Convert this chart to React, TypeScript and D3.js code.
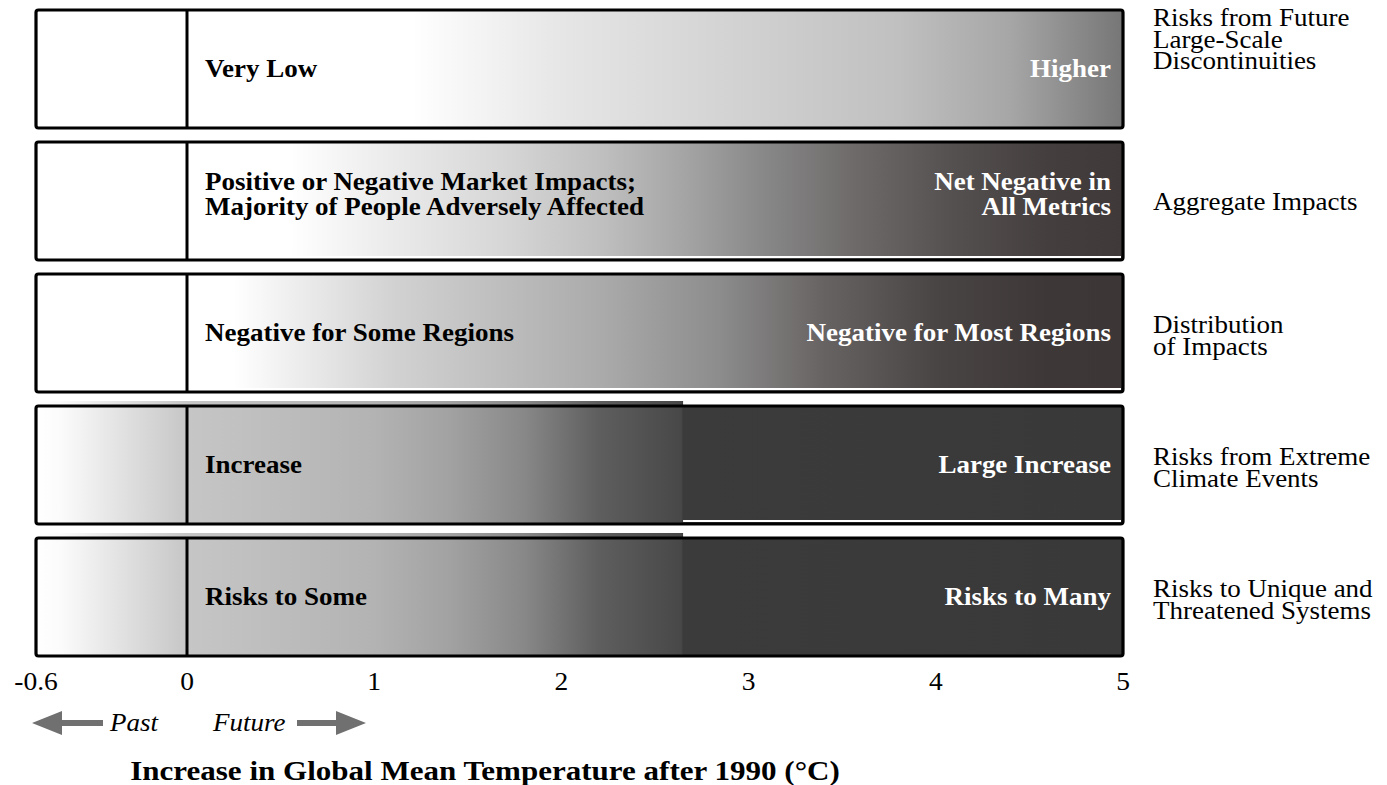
import * as d3 from 'd3'
import type { ReactNode } from 'react'

const WIDTH = 1387
const HEIGHT = 785

// temperature axis (°C after 1990)
const TICKS = [-0.6, 0, 1, 2, 3, 4, 5]
const TICK_LABELS = ['-0.6', '0', '1', '2', '3', '4', '5']

// reasons for concern, top to bottom
const ROWS = ['discontinuities', 'aggregate', 'distribution', 'extreme', 'unique']

const ROW_LABELS = [
  ['Risks from Future', 'Large-Scale', 'Discontinuities'],
  ['Aggregate Impacts'],
  ['Distribution', 'of Impacts'],
  ['Risks from Extreme', 'Climate Events'],
  ['Risks to Unique and', 'Threatened Systems']
]

const LOW_TEXT = [
  ['Very Low'],
  ['Positive or Negative Market Impacts;', 'Majority of People Adversely Affected'],
  ['Negative for Some Regions'],
  ['Increase'],
  ['Risks to Some']
]

const HIGH_TEXT = [
  ['Higher'],
  ['Net Negative in', 'All Metrics'],
  ['Negative for Most Regions'],
  ['Large Increase'],
  ['Risks to Many']
]

// risk shading along temperature: [temp, colour]
const SHADE_DISCONT: [number, string][] = [
  [-0.6, '#ffffff'], [1.2, '#ffffff'], [2.0, '#e6e6e6'], [2.75, '#d6d6d6'],
  [3.8, '#c0c0c0'], [4.4, '#a6a6a6'], [5, '#767676']
]
const SHADE_AGG: [number, string][] = [
  [-0.6, '#ffffff'], [0.55, '#ffffff'], [1.0, '#eeeeee'], [1.7, '#d6d6d6'],
  [2.2, '#c0c0c0'], [2.65, '#a5a5a5'], [3.05, '#8a8a8a'], [3.55, '#6f6b6b'],
  [4.1, '#555050'], [4.6, '#443e3e'], [5, '#3f3939']
]
const SHADE_DIST: [number, string][] = [
  [-0.6, '#ffffff'], [0.25, '#ffffff'], [1.1, '#d2d2d2'], [2.2, '#ababab'],
  [2.85, '#8c8c8c'], [3.4, '#686363'], [4.0, '#4a4545'], [4.6, '#3d3737'], [5, '#3c3636']
]
const SHADE_EXTREME: [number, string][] = [
  [-0.6, '#ffffff'], [-0.5, '#fbfbfb'], [0, '#c6c6c6'], [1, '#b3b3b3'],
  [1.4, '#a2a2a2'], [1.8, '#888888'], [2.0, '#737373'], [2.2, '#5e5e5e'],
  [2.64, '#484848'], [2.65, '#3b3b3b'], [5, '#393939']
]
const SHADE_UNIQUE: [number, string][] = SHADE_EXTREME

const SHADES = [SHADE_DISCONT, SHADE_AGG, SHADE_DIST, SHADE_EXTREME, SHADE_UNIQUE]

// where the solid dark block starts in the last two rows
const BREAK_TEMP = 2.65

const SERIF = '"Liberation Serif", "Times New Roman", Times, serif'
const STRETCH = 1.08

// text slightly widened like the scanned original
function T({ x, y, children, sx = STRETCH, ...rest }: { x: number; y: number; sx?: number; children: ReactNode; [k: string]: any }) {
  return (
    <text transform={`translate(${x},${y}) scale(${sx},1)`} {...rest}>
      {children}
    </text>
  )
}

export default function App() {
  const x = d3.scaleLinear().domain([-0.6, 0, 5]).range([36, 187, 1123])
  const y = d3.scaleBand<string>().domain(ROWS).range([10, 656]).paddingInner(0.106)
  const x0 = x(-0.6)
  const x1 = x(5)
  const off = (t: number) => `${(((x(t) - x0) / (x1 - x0)) * 100).toFixed(2)}%`
  const bw = y.bandwidth()
  const fs = 25

  return (
    <svg
      width={WIDTH}
      height={HEIGHT}
      style={{ position: 'absolute', left: 0, top: 0, background: '#fff' }}
      fontFamily={SERIF}
    >
      <defs>
        {ROWS.map((r, i) => (
          <linearGradient key={r} id={`shade-${r}`} gradientUnits="userSpaceOnUse" x1={x0} x2={x1} y1={0} y2={0}>
            {SHADES[i].map(([t, c], j) => (
              <stop key={j} offset={off(t)} stopColor={c} />
            ))}
          </linearGradient>
        ))}
      </defs>

      {ROWS.map((r, i) => {
        const top = y(r) as number
        const cy = top + bw / 2
        const split = i >= 3
        return (
          <g key={r}>
            {/* fill */}
            <rect x={x0} y={top} width={x1 - x0} height={bw} fill={`url(#shade-${r})`} />
            {split && (
              <rect x={x0} y={top - 5} width={x(BREAK_TEMP) - x0} height={5} fill={`url(#shade-${r})`} />
            )}
            {(i === 1 || i === 2) && (
              <rect x={x0 + 2} y={top + bw - 4} width={x1 - x0 - 4} height={2} fill="#fff" />
            )}
            {i === 3 && (
              <rect x={x(BREAK_TEMP)} y={top + bw - 4} width={x1 - x(BREAK_TEMP) - 2} height={2} fill="#fff" />
            )}
            {/* frame */}
            <rect x={x0} y={top} width={x1 - x0} height={bw} fill="none" stroke="#000" strokeWidth={3.2} rx={2.5} />
            <line x1={x(0)} x2={x(0)} y1={top} y2={top + bw} stroke="#000" strokeWidth={3} />

            {/* low end text */}
            {LOW_TEXT[i].map((s, j) => (
              <T
                key={`l${j}`}
                x={x(0) + 18}
                y={cy + 8 + (LOW_TEXT[i].length > 1 ? (j - 1) * 25 + 6 : 0)}
                fontSize={fs}
                fontWeight="bold"
                fill="#000"
              >
                {s}
              </T>
            ))}
            {/* high end text */}
            {HIGH_TEXT[i].map((s, j) => (
              <T
                key={`h${j}`}
                x={x(5) - 12}
                y={cy + 8 + (HIGH_TEXT[i].length > 1 ? (j - 1) * 25 + 6 : 0)}
                fontSize={fs}
                fontWeight="bold"
                fill="#fff"
                textAnchor="end"
              >
                {s}
              </T>
            ))}
            {/* row label */}
            {ROW_LABELS[i].map((s, j) => {
              const n = ROW_LABELS[i].length
              const base = n > 2 ? top + 16 + j * 21.5 : cy + 9 + (j - (n - 1) / 2) * 21.5 + (n > 1 ? 2 : 0)
              return (
                <T key={`r${j}`} x={1153} y={base} fontSize={fs} fill="#000">
                  {s}
                </T>
              )
            })}
          </g>
        )
      })}

      {/* axis labels */}
      {TICKS.map((t, i) => (
        <T key={t} x={x(t)} y={690} sx={1.1} fontSize={fs} textAnchor="middle" fill="#000">
          {TICK_LABELS[i]}
        </T>
      ))}

      {/* past / future arrows */}
      <g fill="#707070">
        <path d={`M${x0 - 4},723 L${x0 + 26},711 L${x0 + 26},720 L${x0 + 67},720 L${x0 + 67},726 L${x0 + 26},726 L${x0 + 26},735 Z`} />
        <path d={`M366,723 L336,711 L336,720 L297,720 L297,726 L336,726 L336,735 Z`} />
      </g>
      <T x={110} y={731} fontSize={fs} fontStyle="italic" fill="#000">Past</T>
      <T x={213} y={731} fontSize={fs} fontStyle="italic" fill="#000">Future</T>

      <T x={485} y={780} sx={1.15} fontSize={27} fontWeight="bold" textAnchor="middle" fill="#000">
        Increase in Global Mean Temperature after 1990 (°C)
      </T>
    </svg>
  )
}
